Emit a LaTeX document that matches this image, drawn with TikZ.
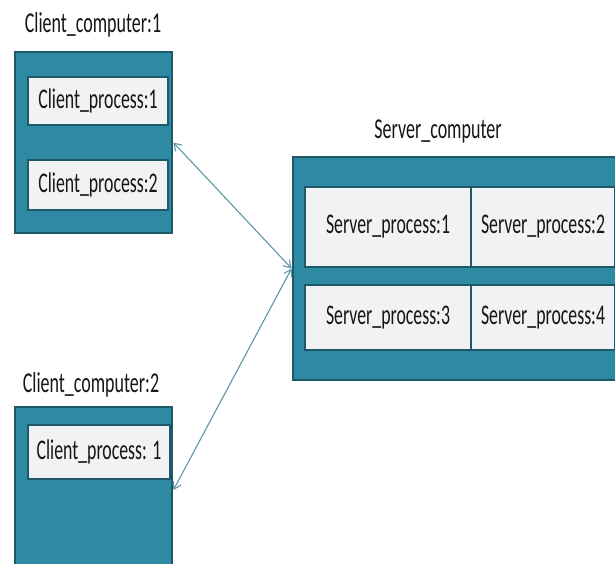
\documentclass[tikz,border=0pt]{standalone}
\usepackage{fontspec}
\usepackage{graphicx}
\setmainfont{Carlito}
\usetikzlibrary{arrows.meta}
\definecolor{hostfill}{HTML}{2E8AA3}
\definecolor{hostedge}{HTML}{1D586B}
\definecolor{procfill}{HTML}{F0F2F3}
\definecolor{link}{HTML}{5E96A6}
\definecolor{ink}{HTML}{161616}
% text is drawn a little taller than wide
\newcommand\talltext[1]{\scalebox{1}[1.6]{#1}}
\tikzset{
  host/.style={draw=hostedge, line width=2.8pt, fill=hostfill, inner sep=0pt},
  proc/.style={draw=hostedge, line width=2.2pt, fill=procfill, inner sep=0pt,
    text=ink, font=\fontsize{17.8}{20}\selectfont},
  title/.style={text=ink, font=\fontsize{18}{20}\selectfont, anchor=base, inner sep=0pt},
  link/.style={draw=link, line width=1.1pt, {Straight Barb[length=7pt,width=9pt]}-{Straight Barb[length=7pt,width=9pt]}}
}
\begin{document}
\begin{tikzpicture}[x=1pt,y=-1pt]
\useasboundingbox (0,0) rectangle (615,564);
\clip (0,0) rectangle (615,564);
\fill[white] (0,0) rectangle (615,564);

% first client computer
\node[title] (c1title) at (93,33) {\talltext{Client\_computer:1}};
\node[host, minimum width=157pt, minimum height=181pt] (c1) at (93.5,142.5) {};
\node[proc, minimum width=140pt, minimum height=48pt] (c1p1) at (98,101) {\talltext{Client\_process:1}};
\node[proc, minimum width=140pt, minimum height=50pt] (c1p2) at (98,185) {\talltext{Client\_process:2}};

% second client computer
\node[title] (c2title) at (91,392) {\talltext{Client\_computer:2}};
\node[host, minimum width=157pt, minimum height=166pt] (c2) at (93.5,490) {};
\node[proc, minimum width=142pt, minimum height=54pt] (c2p1) at (99,452) {\talltext{Client\_process: 1}};

% server computer
\node[title] (stitle) at (438,139) {\talltext{Server\_computer}};
\node[host, minimum width=337pt, minimum height=223pt] (srv) at (461.5,268.5) {};
\node[proc, minimum width=166pt, minimum height=80pt] (s1) at (388,227) {\talltext{Server\_process:1}};
\node[proc, minimum width=144pt, minimum height=80pt] (s2) at (543,227) {\talltext{Server\_process:2}};
\node[proc, minimum width=166pt, minimum height=65pt] (s3) at (388,317.5) {\talltext{Server\_process:3}};
\node[proc, minimum width=144pt, minimum height=65pt] (s4) at (543,317.5) {\talltext{Server\_process:4}};

% connections
\draw[link] (c1.east) -- (srv.west);
\draw[link] (c2.east) -- (srv.west);
\end{tikzpicture}
\end{document}
